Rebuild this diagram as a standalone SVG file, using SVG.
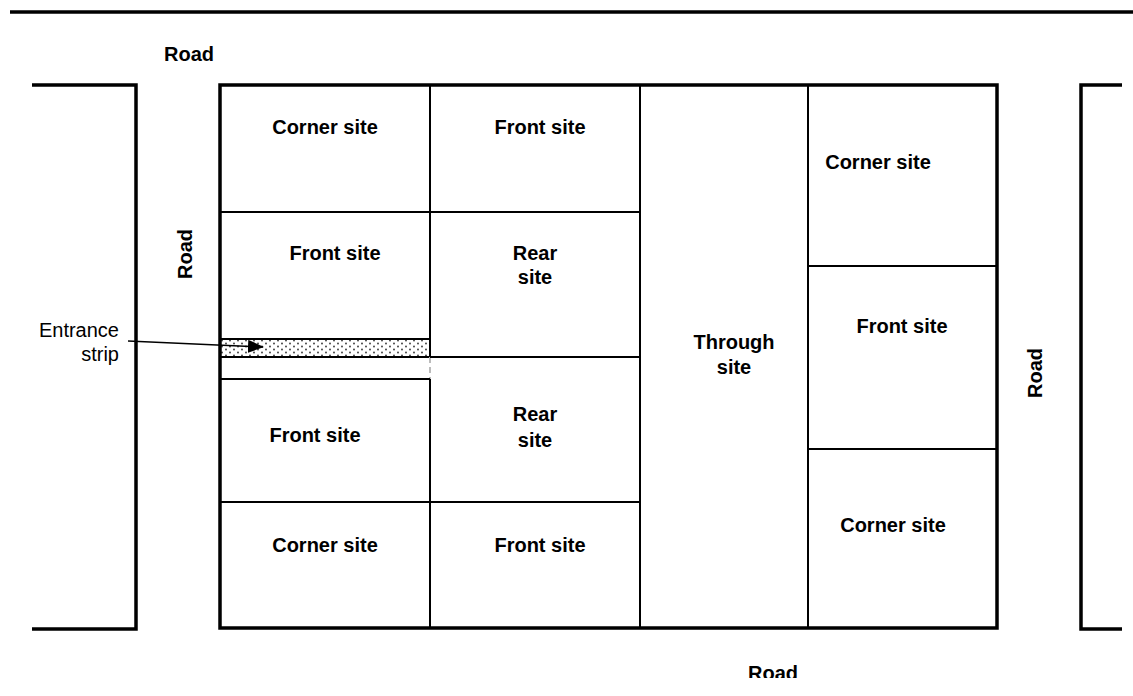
<svg xmlns="http://www.w3.org/2000/svg" width="1133" height="696" viewBox="0 0 1133 696">
<style>
.t{font-family:"Liberation Sans",Arial,sans-serif;font-size:20px;font-weight:bold;fill:#000;text-anchor:middle}
.r{font-family:"Liberation Sans",Arial,sans-serif;font-size:20px;fill:#000;text-anchor:end}
.thick{stroke:#000;stroke-width:3.5;fill:none}
.thin{stroke:#000;stroke-width:2;fill:none}
</style>
<defs>
<pattern id="dots" width="8" height="6" patternUnits="userSpaceOnUse">
<rect width="8" height="6" fill="#fff"/>
<circle cx="2" cy="1.5" r="0.9" fill="#333"/>
<circle cx="6" cy="4.5" r="0.9" fill="#333"/>
</pattern>
<marker id="ah" markerWidth="16" markerHeight="13" refX="15" refY="6.5" orient="auto" markerUnits="userSpaceOnUse">
<path d="M0,0 L16,6.5 L0,13 Z" fill="#000"/>
</marker>
<clipPath id="cb"><rect x="0" y="0" width="1133" height="678"/></clipPath>
</defs>
<g id="roads">
<line class="thick" x1="10" y1="12" x2="1133" y2="12"/>
<polyline class="thick" points="32,85 136,85 136,629 32,629"/>
<polyline class="thick" points="1122,85 1081,85 1081,629 1122,629"/>
<text class="t" x="189" y="61">Road</text>
<text class="t" transform="translate(192,254) rotate(-90)">Road</text>
<text class="t" transform="translate(1042,373) rotate(-90)">Road</text>
<text class="t" x="773" y="680" clip-path="url(#cb)">Road</text>
</g>
<g id="strip">
<rect x="220" y="339" width="210" height="18" fill="url(#dots)" stroke="#000" stroke-width="2"/>
<line x1="430" y1="357" x2="430" y2="379" stroke="#bbb" stroke-width="2" stroke-dasharray="6,4"/>
</g>
<g id="lines">
<line class="thin" x1="430" y1="85" x2="430" y2="339"/>
<line class="thin" x1="430" y1="379" x2="430" y2="628"/>
<line class="thin" x1="640" y1="85" x2="640" y2="628"/>
<line class="thin" x1="808" y1="85" x2="808" y2="628"/>
<line class="thin" x1="220" y1="212" x2="640" y2="212"/>
<line class="thin" x1="220" y1="379" x2="430" y2="379"/>
<line class="thin" x1="430" y1="357" x2="640" y2="357"/>
<line class="thin" x1="220" y1="502" x2="640" y2="502"/>
<line class="thin" x1="808" y1="266" x2="997" y2="266"/>
<line class="thin" x1="808" y1="449" x2="997" y2="449"/>
<rect class="thick" x="220" y="85" width="777" height="543"/>
</g>
<g id="n1"><text class="t" x="325" y="134">Corner site</text></g>
<g id="n2"><text class="t" x="540" y="134">Front site</text></g>
<g id="n3"><text class="t" x="335" y="260">Front site</text></g>
<g id="n4"><text class="t" x="535" y="260">Rear</text><text class="t" x="535" y="284">site</text></g>
<g id="n5"><text class="t" x="734" y="349">Through</text><text class="t" x="734" y="374">site</text></g>
<g id="n6"><text class="t" x="878" y="169">Corner site</text></g>
<g id="n7"><text class="t" x="902" y="333">Front site</text></g>
<g id="n8"><text class="t" x="315" y="442">Front site</text></g>
<g id="n9"><text class="t" x="535" y="421">Rear</text><text class="t" x="535" y="447">site</text></g>
<g id="n10"><text class="t" x="325" y="552">Corner site</text></g>
<g id="n11"><text class="t" x="540" y="552">Front site</text></g>
<g id="n12"><text class="t" x="893" y="532">Corner site</text></g>
<g id="entrance">
<text class="r" x="119" y="337">Entrance</text>
<text class="r" x="119" y="361">strip</text>
</g>
<g id="connectors">
<line x1="128" y1="341" x2="263" y2="347" stroke="#000" stroke-width="1.5" marker-end="url(#ah)"/>
</g>
</svg>
